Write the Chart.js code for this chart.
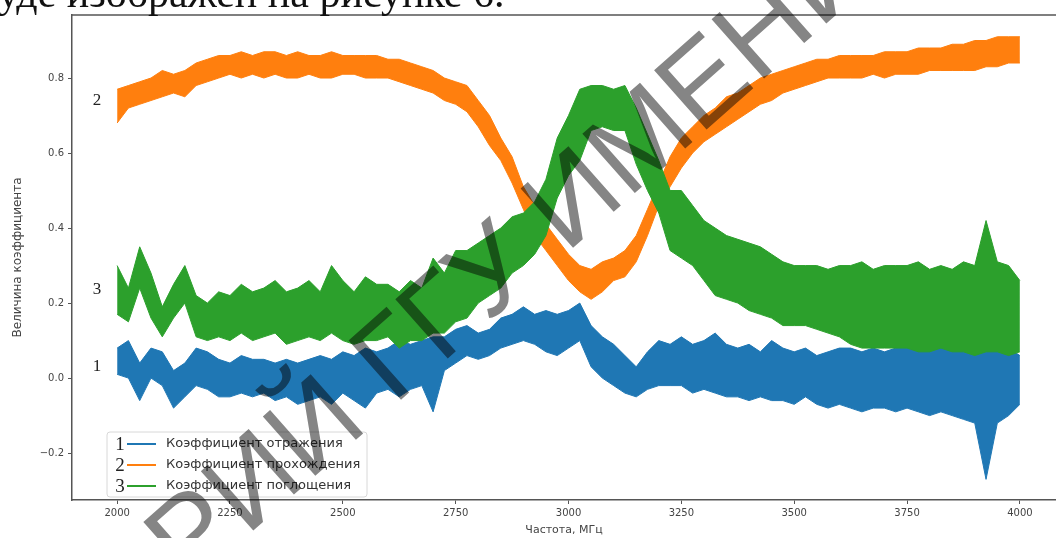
<!DOCTYPE html>
<html>
<head>
<meta charset="utf-8">
<script src="https://cdn.jsdelivr.net/npm/chart.js@4/dist/chart.umd.min.js"></script>
<style>
  html, body { margin: 0; padding: 0; background: #fff; overflow: hidden; }
</style>
</head>
<body>
<canvas id="chart" width="1056" height="538"></canvas>
<script>
// частоты, МГц (шаг 25)
const freq = [
  2000, 2025, 2050, 2075, 2100, 2125, 2150, 2175, 2200, 2225,
  2250, 2275, 2300, 2325, 2350, 2375, 2400, 2425, 2450, 2475,
  2500, 2525, 2550, 2575, 2600, 2625, 2650, 2675, 2700, 2725,
  2750, 2775, 2800, 2825, 2850, 2875, 2900, 2925, 2950, 2975,
  3000, 3025, 3050, 3075, 3100, 3125, 3150, 3175, 3200, 3225,
  3250, 3275, 3300, 3325, 3350, 3375, 3400, 3425, 3450, 3475,
  3500, 3525, 3550, 3575, 3600, 3625, 3650, 3675, 3700, 3725,
  3750, 3775, 3800, 3825, 3850, 3875, 3900, 3925, 3950, 3975,
  4000
];

// 1 - коэффициент отражения (верхняя / нижняя граница шумовой полосы)
const reflHi = [
  .08, .10, .04, .08, .07, .02, .04, .08, .07, .05,
  .04, .06, .05, .05, .04, .05, .04, .05, .06, .05,
  .07, .06, .08, .07, .08, .10, .09, .10, .11, .11,
  .13, .14, .12, .13, .16, .17, .19, .17, .18, .17,
  .18, .20, .14, .11, .09, .06, .03, .07, .10, .09,
  .11, .09, .10, .12, .09, .08, .09, .07, .10, .08,
  .07, .08, .06, .07, .08, .08, .07, .08, .07, .08,
  .08, .09, .08, .08, .08, .09, .08, .08, .08, .08,
  .06
];
const reflLo = [
  .01, .00, -.06, .00, -.02, -.08, -.05, -.02, -.03, -.05,
  -.05, -.04, -.05, -.04, -.06, -.05, -.07, -.06, -.05, -.07,
  -.04, -.06, -.08, -.04, -.03, -.05, -.03, -.02, -.09, .02,
  .04, .06, .05, .06, .08, .09, .10, .09, .07, .06,
  .08, .10, .03, .00, -.02, -.04, -.05, -.03, -.02, -.02,
  -.02, -.04, -.03, -.04, -.05, -.05, -.06, -.05, -.06, -.06,
  -.07, -.05, -.07, -.08, -.07, -.08, -.09, -.08, -.08, -.09,
  -.08, -.09, -.10, -.09, -.10, -.11, -.12, -.27, -.12, -.10,
  -.07
];

// 2 - коэффициент прохождения
const transHi = [
  .77, .78, .79, .80, .82, .81, .82, .84, .85, .86,
  .86, .87, .86, .87, .87, .86, .87, .86, .86, .87,
  .86, .86, .86, .86, .85, .85, .84, .83, .82, .80,
  .79, .78, .74, .70, .64, .59, .51, .46, .41, .37,
  .33, .30, .29, .31, .32, .34, .38, .45, .52, .59,
  .64, .67, .70, .72, .75, .76, .78, .80, .81, .82,
  .83, .84, .85, .85, .86, .86, .86, .86, .87, .87,
  .87, .88, .88, .88, .89, .89, .90, .90, .91, .91,
  .91
];
const transLo = [
  .68, .72, .73, .74, .75, .76, .75, .78, .79, .80,
  .81, .80, .81, .80, .81, .80, .80, .81, .80, .80,
  .81, .81, .80, .80, .80, .79, .78, .77, .76, .74,
  .73, .71, .67, .62, .58, .52, .45, .38, .34, .30,
  .26, .23, .21, .23, .26, .27, .31, .38, .46, .51,
  .56, .60, .63, .65, .67, .69, .71, .73, .74, .76,
  .77, .78, .79, .80, .80, .80, .80, .81, .80, .81,
  .81, .81, .82, .82, .82, .82, .82, .83, .83, .84,
  .84
];

// 3 - коэффициент поглощения
const absHi = [
  .30, .24, .35, .28, .19, .25, .30, .22, .20, .23,
  .22, .25, .23, .24, .26, .23, .24, .26, .23, .30,
  .26, .23, .27, .25, .25, .23, .26, .24, .32, .28,
  .34, .34, .36, .38, .40, .43, .44, .47, .53, .64,
  .70, .77, .78, .78, .77, .78, .72, .65, .58, .50,
  .50, .46, .42, .40, .38, .37, .36, .35, .33, .31,
  .30, .30, .30, .29, .30, .30, .31, .29, .30, .30,
  .30, .31, .29, .30, .29, .31, .30, .42, .31, .30,
  .26
];
const absLo = [
  .17, .15, .24, .16, .11, .16, .20, .11, .10, .11,
  .10, .12, .10, .11, .12, .09, .10, .11, .10, .12,
  .10, .09, .10, .10, .11, .08, .10, .10, .12, .12,
  .15, .16, .20, .22, .24, .28, .30, .33, .38, .48,
  .54, .58, .66, .67, .66, .66, .57, .50, .44, .34,
  .32, .30, .26, .22, .21, .20, .18, .17, .16, .14,
  .14, .14, .13, .12, .11, .09, .08, .08, .08, .08,
  .08, .07, .07, .08, .07, .07, .06, .07, .07, .06,
  .07
];

const seriesNames = ['Коэффициент отражения', 'Коэффициент прохождения', 'Коэффициент поглощения'];
const seriesColors = ['#1f77b4', '#ff7f0e', '#2ca02c'];
const xTicks = [2000, 2250, 2500, 2750, 3000, 3250, 3500, 3750, 4000];
const yTicks = [-0.2, 0, 0.2, 0.4, 0.6, 0.8];

const pts = arr => freq.map((f, i) => ({ x: f, y: arr[i] }));

function band(lo, hi, color, order) {
  const base = { borderColor: color, backgroundColor: color, borderWidth: 1, pointRadius: 0, tension: 0, order: order };
  return [
    Object.assign({ data: pts(lo), fill: false }, base),
    Object.assign({ data: pts(hi), fill: '-1' }, base)
  ];
}

const datasets = [].concat(
  band(reflLo, reflHi, seriesColors[0], 3),
  band(transLo, transHi, seriesColors[1], 2),
  band(absLo, absHi, seriesColors[2], 1)
);

const AXIS = '#555';
const TXT = '#444';

// рамка сверху, цифры у кривых, легенда
const decor = {
  id: 'decor',
  afterDatasetsDraw(chart) {
    const ctx = chart.ctx, a = chart.chartArea;
    ctx.save();
    ctx.strokeStyle = AXIS;
    ctx.lineWidth = 1.5;
    ctx.beginPath();
    ctx.moveTo(a.left, a.top);
    ctx.lineTo(a.right, a.top);
    ctx.stroke();

    ctx.fillStyle = '#222';
    ctx.font = '17px "Liberation Serif"';
    ctx.textAlign = 'center';
    ctx.textBaseline = 'middle';
    ctx.fillText('2', 97, 101);
    ctx.fillText('3', 97, 290);
    ctx.fillText('1', 97, 367);

    // легенда
    const bx = 107, by = 432, bw = 260, bh = 65;
    ctx.fillStyle = 'rgba(255,255,255,0.85)';
    ctx.strokeStyle = '#d8d8d8';
    ctx.lineWidth = 1;
    ctx.beginPath();
    ctx.roundRect(bx, by, bw, bh, 3);
    ctx.fill();
    ctx.stroke();
    const rows = [444, 465, 486];
    rows.forEach((ry, i) => {
      ctx.fillStyle = '#222';
      ctx.font = '19px "Liberation Serif"';
      ctx.textAlign = 'center';
      ctx.fillText(String(i + 1), 120, ry + 1);
      ctx.strokeStyle = seriesColors[i];
      ctx.lineWidth = 2;
      ctx.beginPath();
      ctx.moveTo(127, ry);
      ctx.lineTo(156, ry);
      ctx.stroke();
      ctx.fillStyle = '#333';
      ctx.font = '13px "DejaVu Sans"';
      ctx.textAlign = 'left';
      ctx.fillText(seriesNames[i], 166, ry);
    });
    ctx.restore();
  },
  afterDraw(chart) {
    const ctx = chart.ctx;
    ctx.save();
    // обрезанная строка текста над рисунком
    ctx.fillStyle = '#111';
    ctx.font = '42px "Liberation Serif"';
    ctx.textAlign = 'left';
    ctx.textBaseline = 'alphabetic';
    ctx.fillText('уде изображен на рисунке 6.', -2, 7);

    // водяной знак
    ctx.globalCompositeOperation = 'multiply';
    ctx.fillStyle = '#858585';
    ctx.font = '115px "Liberation Sans"';
    ctx.translate(394, 406);
    ctx.rotate(-41.5 * Math.PI / 180);
    ctx.textBaseline = 'alphabetic';
    ctx.textAlign = 'right';
    ctx.fillText('РЕПОЗИТОРИЙ ', 0, 0);
    ctx.textAlign = 'left';
    ctx.fillText('ГГУ ИМЕНИ Ф. СКОРИНЫ', 0, 0);
    ctx.restore();
  }
};

new Chart(document.getElementById('chart'), {
  type: 'line',
  data: { datasets: datasets },
  options: {
    responsive: false,
    animation: false,
    events: [],
    layout: { padding: { top: 15, left: 0, right: 0, bottom: 0 } },
    plugins: { legend: { display: false }, tooltip: { enabled: false } },
    scales: {
      x: {
        type: 'linear',
        min: 1900,
        max: 4080,
        afterBuildTicks: s => { s.ticks = xTicks.map(v => ({ value: v })); },
        afterFit: s => { s.height = 38; },
        grid: { drawOnChartArea: false, drawTicks: true, tickLength: 4, tickColor: AXIS },
        border: { color: AXIS, width: 1.5 },
        ticks: {
          color: TXT, padding: 3, maxRotation: 0, autoSkip: false,
          font: { family: 'DejaVu Sans', size: 10 },
          callback: v => String(v)
        },
        title: {
          display: true, text: 'Частота, МГц', color: TXT,
          font: { family: 'DejaVu Sans', size: 11 },
          padding: { top: 0, bottom: 1 }
        }
      },
      y: {
        min: -0.325,
        max: 0.968,
        afterBuildTicks: s => { s.ticks = yTicks.map(v => ({ value: v })); },
        afterFit: s => { s.width = 72; },
        grid: { drawOnChartArea: false, drawTicks: true, tickLength: 4, tickColor: AXIS },
        border: { color: AXIS, width: 1.5 },
        ticks: {
          color: TXT, padding: 4,
          font: { family: 'DejaVu Sans', size: 10 },
          callback: v => (v < 0 ? '\u2212' : '') + Math.abs(v).toFixed(1)
        },
        title: {
          display: true, text: 'Величина коэффициента', color: TXT,
          font: { family: 'DejaVu Sans', size: 12 },
          padding: { top: 11, bottom: 0 }
        }
      }
    }
  },
  plugins: [decor]
});
</script>
</body>
</html>
